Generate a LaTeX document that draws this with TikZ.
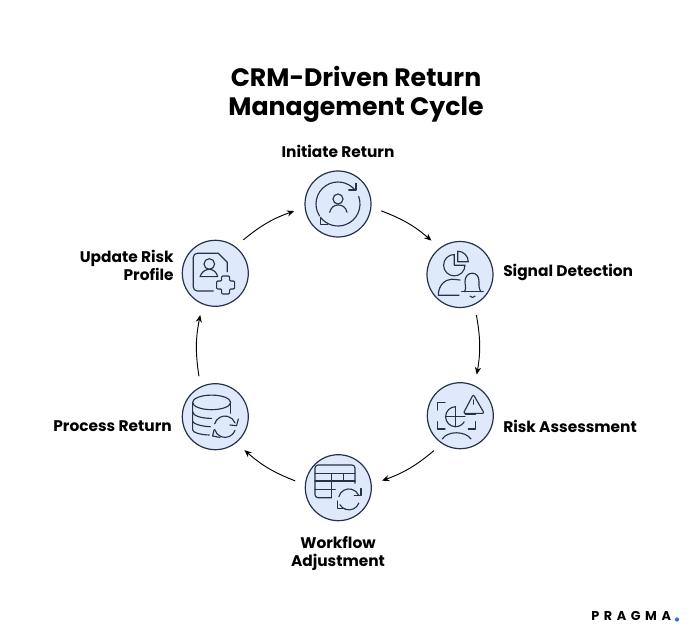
\documentclass[tikz,border=0pt]{standalone}
\usepackage{fontspec}
\setmainfont{Poppins}
\usetikzlibrary{arrows.meta,calc}
\definecolor{ink}{HTML}{24324A}
\definecolor{disc}{HTML}{DFE9FB}
\definecolor{dotblue}{HTML}{3F6FD8}
\tikzset{
 stage/.style={circle,draw=ink,fill=disc,line width=.9pt,minimum size=49.5pt,inner sep=0pt,outer sep=8pt},
 lab/.style={font=\fontsize{11.55}{13.5}\selectfont\bfseries,text=black,inner sep=0pt},
 ttl/.style={font=\fontsize{18.9}{21.8}\selectfont\bfseries,text=black,inner sep=0pt,align=center},
 arr/.style={-{Stealth[length=5.5pt,width=4.6pt]},black,line width=.7pt,shorten >=.5pt,bend left=10},
 ic/.style={draw=ink,line width=.85pt,line cap=round,line join=round}
}
\begin{document}
\begin{tikzpicture}[x=.75pt,y=-.75pt]
\useasboundingbox (0,0) rectangle (689,631);
\fill[white] (0,0) rectangle (689,631);
\node[ttl] (title) at (356,94) {CRM-Driven Return\\Management Cycle};
\node[stage] (n1) at (338,204) {};
\node[stage] (n2) at (460,274.5) {};
\node[stage] (n3) at (460.3,415.7) {};
\node[stage] (n4) at (338.3,487.7) {};
\node[stage] (n5) at (215.3,416.7) {};
\node[stage] (n6) at (215.3,273.3) {};
\node[lab] (l1) at (338,151) {Initiate Return};
\node[lab,anchor=west] (l2) at (503,272.5) {Signal Detection};
\node[lab,anchor=west] (l3) at (503,426) {Risk Assessment};
\node[lab,align=center] (l4) at (338,553.5) {Workflow\\Adjustment};
\node[lab,anchor=east] (l5) at (172,426) {Process Return};
\node[lab,anchor=east,align=right] (l6) at (174,265.5) {Update Risk\\Profile};
\node[inner sep=0pt,font=\fontsize{9.6}{11}\selectfont\bfseries\addfontfeature{LetterSpace=36},anchor=west,text=black] (logo) at (591,616) {PRAGMA};
\node[circle,fill=dotblue,inner sep=0pt,minimum size=3.2pt] (dot) at (677,619.5) {};
\draw[arr] (n1.-9) to (n2.130);
\draw[arr] (n2.-68) to (n3.68);
\draw[arr] (n3.-127) to (n4.9);
\draw[arr] (n4.171) to (n5.-49);
\draw[arr] (n5.112) to (n6.-110);
\draw[arr] (n6.50) to (n1.189);
% icon 1
\begin{scope}[shift={(n1.center)},ic]
\draw (0,-5) circle (5);
\draw (-8.3,8.3) .. controls (-7,3) and (-3.5,1) .. (0.3,1) .. controls (4,1) and (8,3) .. (9,8.3);
\draw (147:22) arc (147:321:22);
\draw (-20:22) arc (-20:141:22);
\draw (10.7,-14) -- (18,-14) -- (18,-20.7);
\draw (-17.7,13.3) -- (-17.7,20.3) -- (-10.3,20.3);
\end{scope}
% icon 2
\begin{scope}[shift={(n2.center)},ic]
\draw (-5.7,-9.3) -- ++(10.7,0) arc (0:270:10.7) -- cycle;
\draw (-2.3,-12.7) -- (-2.3,-23.3) arc (270:360:10.6) -- cycle;
\draw (-1,20.7) -- (-21.7,20.7) .. controls (-21.7,11) and (-15,4.7) .. (-8,4.7) -- (0,5.5);
\draw (1.7,17.3) -- (23.3,17.3);
\draw (4.5,17.3) .. controls (6.5,14) and (5,10) .. (5,7) .. controls (5,2) and (8,-1.3) .. (12.3,-1.3) .. controls (16.5,-1.3) and (19,2) .. (19,7) .. controls (19,10) and (18.5,14) .. (21,17.3);
\draw (10,21.7) .. controls (11,23.3) and (14,23.3) .. (15,21.7);
\end{scope}
% icon 3
\begin{scope}[shift={(n3.center)},ic]
\draw (-15.3,-13.3) -- (-22.7,-13.3) -- (-22.7,-5.7);
\draw (-22.7,6) -- (-22.7,13.3) -- (-15.3,13.3);
\draw (8,13.3) -- (15.3,13.3) -- (15.3,6);
\draw (15.3,-1.3) -- (5,-1.3);
\draw (-4.7,-9) arc (270:30:10);
\draw (-4.7,-9) -- (-4.7,11);
\draw (-14.7,1) -- (4.7,1);
\draw[rounded corners=1.5pt] (13,-21.3) -- (24,-2.3) -- (3,-2.3) -- cycle;
\draw (13,-15.7) -- (13,-11.5);
\draw (-18,23.3) .. controls (-13,15) and (5,15) .. (10.7,23.3);
\end{scope}
% icon 4
\begin{scope}[shift={(n4.center)},ic]
\draw (-6.7,10) -- (-20.3,10) arc (90:180:3) -- (-23.3,-19.7) arc (180:270:3) -- (13.7,-22.7) arc (270:360:3) -- (16.7,-4.3);
\draw (-23.3,-14.3) -- (16.7,-14.3);
\draw (-23.3,-6.7) -- (16.7,-6.7);
\draw (-23.3,1.7) -- (-3,1.7);
\draw (-6.7,-14.3) -- (-6.7,10);
\draw (5,-14.3) -- (5,-6.7);
\draw ($(10.7,11.7)+(195:10.5)$) arc (195:335:10.5);
\draw ($(10.7,11.7)+(20:10.5)$) arc (20:150:10.5);
\draw (22.7,0.7) -- (22.7,8) -- (16,8);
\draw (-0.7,13.3) -- (-0.7,20.7) -- (6.7,20.7);
\end{scope}
% icon 5
\begin{scope}[shift={(n5.center)},ic]
\draw (-3.7,-14.3) ellipse (19 and 7.3);
\draw (15.3,-14.3) -- (15.3,-3.5);
\draw (-22.7,-14.3) -- (-22.7,13) .. controls (-22.7,16) and (-15,18) .. (-6,18.3);
\draw (-22.7,-5) .. controls (-22.7,-1) and (-14,1.7) .. (-3.7,1.7);
\draw (-22.7,4.3) .. controls (-22.7,7) and (-14,9.7) .. (-5,10);
\draw ($(9.7,10)+(195:10.7)$) arc (195:340:10.7);
\draw ($(9.7,10)+(20:10.7)$) arc (20:165:10.7);
\draw (23,2.3) -- (21.3,9) -- (14.7,8.3);
\draw (-1.3,13.3) -- (-2.7,19.3) -- (4.7,20.7);
\end{scope}
% icon 6
\begin{scope}[shift={(n6.center)},ic]
\draw (-2,17.7) -- (-18,17.7) arc (90:180:4) -- (-22,-16) arc (180:270:4) -- (3,-20) -- (12,-11) -- (12,-1.5);
\draw (-6,-9.3) circle (5.3);
\draw (-15.3,3.3) .. controls (-14,-1) and (-10,-4) .. (-6,-4) .. controls (-2,-4) and (1.5,-1) .. (2.3,3.3) -- cycle;
\draw[rounded corners=.8pt] (6.3,2.7) -- (14.3,2.7) -- (14.3,7.7) -- (19.3,7.7) -- (19.3,15.7) -- (14.3,15.7) -- (14.3,20.7) -- (6.3,20.7) -- (6.3,15.7) -- (1.3,15.7) -- (1.3,7.7) -- (6.3,7.7) -- cycle;
\end{scope}
\end{tikzpicture}
\end{document}
